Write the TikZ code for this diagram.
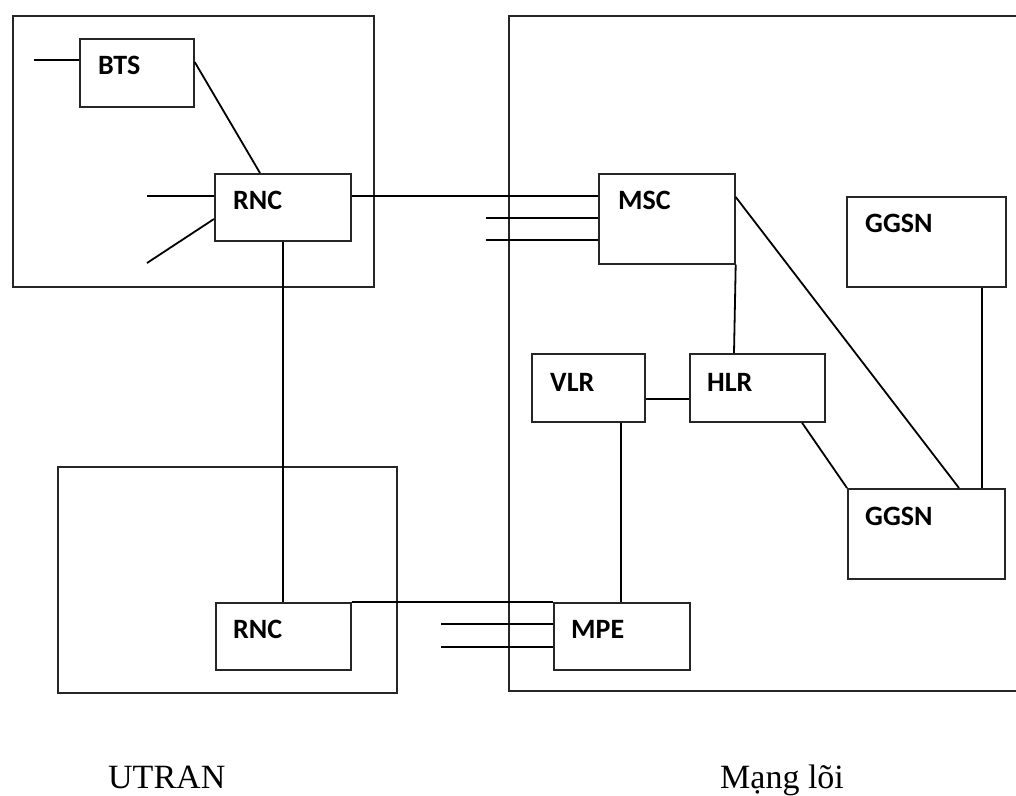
\documentclass[tikz,border=0pt]{standalone}
\usepackage{fontspec}
\newfontfamily\boxfont{Carlito}
\newfontfamily\labfont{Liberation Serif}
\begin{document}
\begin{tikzpicture}[x=1pt,y=-1pt,
  box/.style={draw=black!85,line width=1.7pt,rectangle,inner sep=0,anchor=north west},
  conn/.style={draw=black,line width=1.8pt},
  lbl/.style={inner sep=0,anchor=base west,font=\boxfont\bfseries\fontsize{28}{30}\selectfont},
  grouplbl/.style={inner sep=0,anchor=base west,font=\labfont\fontsize{34}{38}\selectfont}]
\useasboundingbox (0,0) rectangle (1016,795);
% outer groups
\node[box,minimum width=361,minimum height=271] (utranbox) at (12,15) {};
\node[box,minimum width=339,minimum height=226] (lowbox) at (57,466) {};
\node[box,minimum width=530,minimum height=675] (corebox) at (508,15) {};
% elements
\node[box,minimum width=114,minimum height=68] (bts) at (79,38) {};
\node[box,minimum width=136,minimum height=67] (rnca) at (214,173) {};
\node[box,minimum width=136,minimum height=90] (msc) at (598,173) {};
\node[box,minimum width=159,minimum height=90] (ggsna) at (846,196) {};
\node[box,minimum width=113,minimum height=68] (vlr) at (531,353) {};
\node[box,minimum width=135,minimum height=68] (hlr) at (689,353) {};
\node[box,minimum width=157,minimum height=90] (ggsnb) at (847,488) {};
\node[box,minimum width=135,minimum height=67] (rncb) at (215,602) {};
\node[box,minimum width=136,minimum height=67] (mpe) at (553,602) {};
% texts
\node[lbl] (tbts) at (98,74.5) {BTS};
\node[lbl] (trnca) at (233,209.5) {RNC};
\node[lbl] (tmsc) at (618,209.5) {MSC};
\node[lbl] (tggsna) at (865,232.5) {GGSN};
\node[lbl] (tvlr) at (550,391.5) {VLR};
\node[lbl] (thlr) at (707,391.5) {HLR};
\node[lbl] (tggsnb) at (865,525.5) {GGSN};
\node[lbl] (trncb) at (233,638.5) {RNC};
\node[lbl] (tmpe) at (571,638.5) {MPE};
\node[grouplbl] (utran) at (108,788) {UTRAN};
\node[grouplbl] (core) at (720,788) {Mạng lõi};
% free ends
\coordinate (s1) at (34,60);
\coordinate (s2) at (147,196);
\coordinate (s3) at (147,263);
\coordinate (s4) at (486,218);
\coordinate (s5) at (486,240);
\coordinate (s6) at (441,624);
\coordinate (s7) at (441,647);
% connectors
\draw[conn] (s1) -- (s1 -| bts.west);
\draw[conn] ([yshift=-24pt]bts.north east) -- ([xshift=46pt]rnca.north west);
\draw[conn] (s2) -- (s2 -| rnca.west);
\draw[conn] (s3) -- ([yshift=-46pt]rnca.north west);
\draw[conn] ([yshift=-23pt]rnca.north east) -- ([yshift=-23pt]msc.north west);
\draw[conn] (s4) -- (s4 -| msc.west);
\draw[conn] (s5) -- (s5 -| msc.west);
\draw[conn] ([xshift=69pt]rnca.south west) -- ([xshift=68pt]rncb.north west);
\draw[conn] (rncb.north east) -- (mpe.north west);
\draw[conn] (s6) -- (s6 -| mpe.west);
\draw[conn] (s7) -- (s7 -| mpe.west);
\draw[conn] (msc.south east) -- ([xshift=45pt]hlr.north west);
\draw[conn] ([yshift=-24pt]msc.north east) -- ([xshift=112pt]ggsnb.north west);
\draw[conn] ([xshift=136pt]ggsna.south west) -- ([xshift=135pt]ggsnb.north west);
\draw[conn] ([yshift=-46pt]vlr.north east) -- ([yshift=-46pt]hlr.north west);
\draw[conn] ([xshift=90pt]vlr.south west) -- ([xshift=68pt]mpe.north west);
\draw[conn] ([xshift=113pt]hlr.south west) -- (ggsnb.north west);
\end{tikzpicture}
\end{document}
